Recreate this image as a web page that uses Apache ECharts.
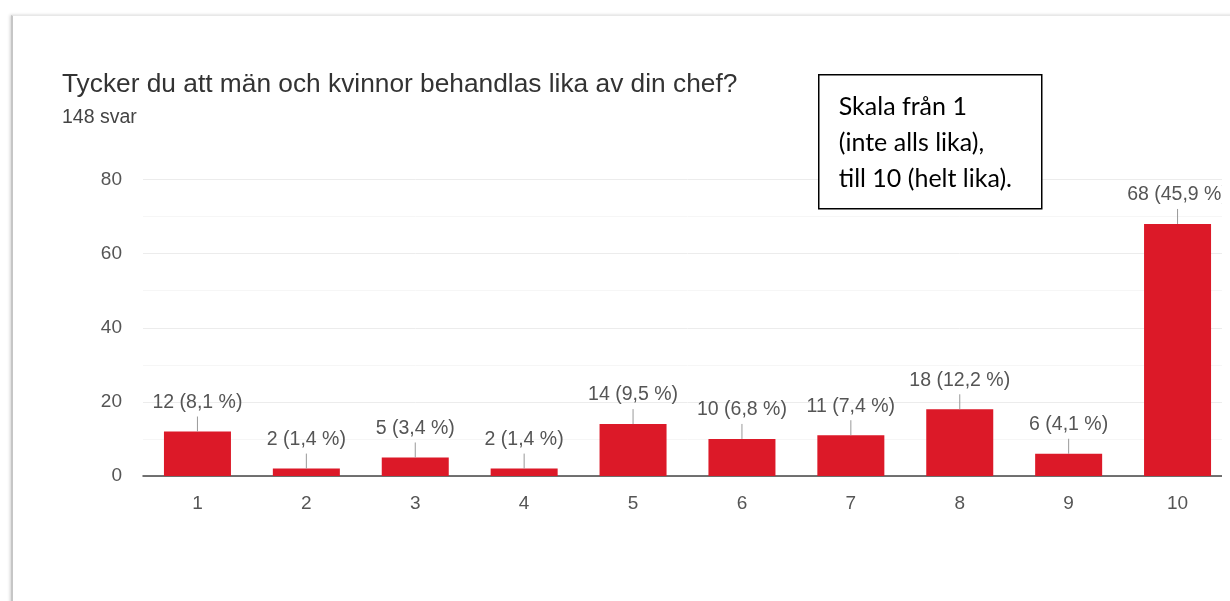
<!DOCTYPE html>
<html>
<head>
<meta charset="utf-8">
<script src="https://cdn.jsdelivr.net/npm/echarts@6/dist/echarts.min.js"></script>
<style>
  html, body { margin: 0; padding: 0; background: #fff; }
  #card {
    position: absolute; left: 11px; top: 15px; width: 1240px; height: 600px;
    border-left: 2px solid #c6c6c6; border-top: 1px solid #e8e8e8;
    box-shadow: -1px 0 3px rgba(0,0,0,0.18);
  }
  #wrap { position: absolute; left: 0; top: 0; width: 1222px; height: 601px; overflow: hidden; }
  #chart { position: absolute; left: 0; top: 0; width: 1240px; height: 601px; }
</style>
</head>
<body>
<div id="card"></div>
<div id="wrap"><div id="chart"></div></div>
<script>
var categories = ['1', '2', '3', '4', '5', '6', '7', '8', '9', '10'];
var counts = [12, 2, 5, 2, 14, 10, 11, 18, 6, 68];
var percents = [8.1, 1.4, 3.4, 1.4, 9.5, 6.8, 7.4, 12.2, 4.1, 45.9];
var yTicks = { min: 0, max: 80, interval: 20 };

var chart = echarts.init(document.getElementById('chart'));

var lineData = counts.map(function (v, i) { return [i, v]; });
var font = '"Liberation Sans", Arial, sans-serif';

var option = {
    animation: false,
    textStyle: { fontFamily: font },
    title: [
        {
            text: 'Tycker du att män och kvinnor behandlas lika av din chef?',
            left: 62, top: 72, padding: 0,
            textStyle: { fontSize: 26.3, fontWeight: 'normal', color: '#333', fontFamily: font }
        },
        {
            text: '148 svar',
            left: 62, top: 108, padding: 0,
            textStyle: { fontSize: 19.5, fontWeight: 'normal', color: '#444', fontFamily: font }
        }
    ],
    grid: { left: 143, top: 179.5, width: 1089, height: 296.5, containLabel: false },
    xAxis: {
        type: 'category',
        data: categories,
        axisLine: { lineStyle: { color: '#444', width: 1.5 } },
        axisTick: { show: false },
        axisLabel: { color: '#555', fontSize: 19, margin: 18 }
    },
    yAxis: {
        type: 'value',
        min: yTicks.min, max: yTicks.max, interval: yTicks.interval,
        axisLine: { show: false },
        axisTick: { show: false },
        axisLabel: { color: '#555', fontSize: 19, margin: 21 },
        splitLine: { lineStyle: { color: '#ececec' } },
        minorTick: { show: false, splitNumber: 2 },
        minorSplitLine: { show: true, lineStyle: { color: '#f6f6f6' } }
    },
    series: [
        {
            type: 'bar',
            data: counts,
            barWidth: 67,
            itemStyle: { color: '#dc1928' },
            label: {
                show: true,
                position: 'top',
                distance: 19,
                color: '#555',
                fontSize: 19.5,
                formatter: function (p) {
                    return counts[p.dataIndex] + ' (' + percents[p.dataIndex].toFixed(1).replace('.', ',') + ' %)';
                }
            },
            z: 2
        },
        {
            type: 'custom',
            data: lineData,
            renderItem: function (params, api) {
                var p = api.coord([api.value(0), api.value(1)]);
                return {
                    type: 'line',
                    shape: { x1: p[0], y1: p[1], x2: p[0], y2: p[1] - 15 },
                    style: { stroke: '#999', lineWidth: 1 }
                };
            },
            z: 3
        }
    ],
    graphic: [
        {
            type: 'group',
            left: 818, top: 74,
            z: 100,
            children: [
                {
                    type: 'rect',
                    z: 100,
                    shape: { x: 0, y: 0, width: 223, height: 134 },
                    style: { fill: '#fff', stroke: '#000', lineWidth: 1.5 }
                },
                {
                    type: 'text',
                    z: 101,
                    x: 20, y: 14,
                    style: {
                        text: 'Skala från 1\n(inte alls lika),\ntill 10 (helt lika).',
                        font: '25px Lato',
                        lineHeight: 36,
                        fill: '#000'
                    }
                }
            ]
        }
    ]
};
chart.setOption(option);
</script>
</body>
</html>
